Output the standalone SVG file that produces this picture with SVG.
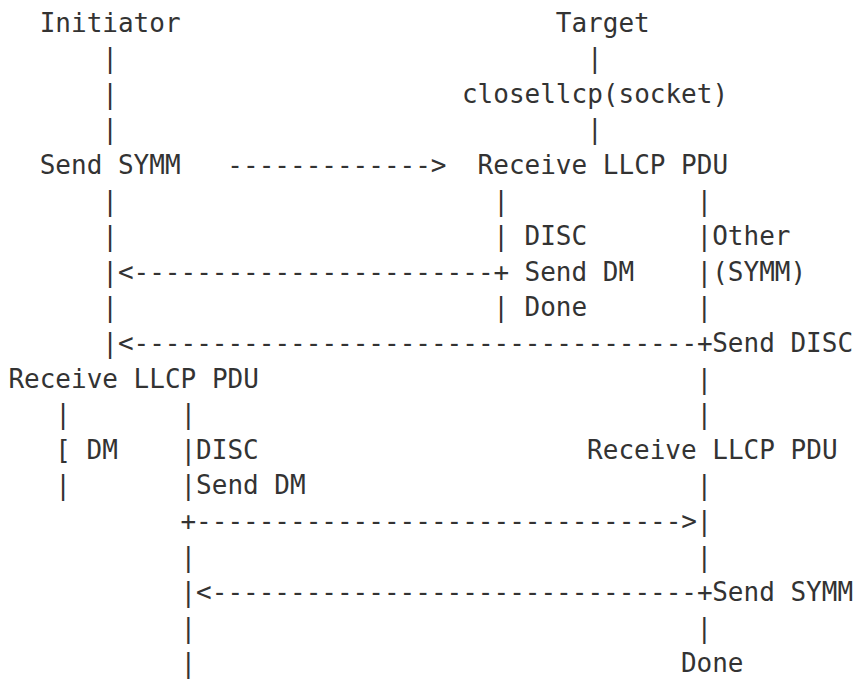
<svg xmlns="http://www.w3.org/2000/svg" width="853" height="679" viewBox="0 0 853 679">
  <style>
    text { font-family: "DejaVu Sans Mono", "Liberation Mono", monospace; font-size: 26px; fill: #333333; white-space: pre; }
  </style>
  <rect width="853" height="679" fill="#ffffff"/>

  <!-- character grid: column c sits at x = 8.4 + 15.64*c, row r baseline at y = 31.5 + 35.6*r -->

  <g id="connectors">
    <!-- initiator lifeline, column 6 -->
    <text x="102.24" y="67.1">|</text>
    <text x="102.24" y="102.7">|</text>
    <text x="102.24" y="138.3">|</text>
    <text x="102.24" y="209.5">|</text>
    <text x="102.24" y="245.1">|</text>
    <text x="102.24" y="280.7">|&lt;-----------------------+</text>
    <text x="102.24" y="316.3">|</text>
    <text x="102.24" y="351.9">|&lt;------------------------------------+</text>

    <!-- target lifeline, column 37 -->
    <text x="587.08" y="67.1">|</text>
    <text x="587.08" y="138.3">|</text>

    <!-- SYMM request -->
    <text x="227.36" y="173.9">-------------&gt;</text>

    <!-- DISC branch, column 31 -->
    <text x="493.24" y="209.5">|</text>
    <text x="493.24" y="245.1">|</text>
    <text x="493.24" y="316.3">|</text>

    <!-- other branch, column 44 -->
    <text x="696.56" y="209.5">|</text>
    <text x="696.56" y="245.1">|</text>
    <text x="696.56" y="280.7">|</text>
    <text x="696.56" y="316.3">|</text>
    <text x="696.56" y="387.5">|</text>
    <text x="696.56" y="423.1">|</text>
    <text x="696.56" y="494.3">|</text>
    <text x="696.56" y="529.9">|</text>
    <text x="696.56" y="565.5">|</text>
    <text x="696.56" y="636.7">|</text>

    <!-- initiator receive branches, columns 3 and 11 -->
    <text x="55.32" y="423.1">|</text>
    <text x="55.32" y="494.3">|</text>
    <text x="180.44" y="423.1">|</text>
    <text x="180.44" y="458.7">|</text>
    <text x="180.44" y="494.3">|</text>
    <text x="180.44" y="529.9">+-------------------------------&gt;</text>
    <text x="180.44" y="565.5">|</text>
    <text x="180.44" y="601.1">|&lt;-------------------------------+</text>
    <text x="180.44" y="636.7">|</text>
    <text x="180.44" y="672.3">|</text>
  </g>

  <g id="initiator">
    <text x="39.68" y="31.5">Initiator</text>
  </g>
  <g id="target">
    <text x="555.8" y="31.5">Target</text>
  </g>
  <g id="close-llcp">
    <text x="461.96" y="102.7">closellcp(socket)</text>
  </g>
  <g id="send-symm">
    <text x="39.68" y="173.9">Send SYMM</text>
  </g>
  <g id="target-receive">
    <text x="477.6" y="173.9">Receive LLCP PDU</text>
  </g>
  <g id="disc-branch">
    <text x="524.52" y="245.1">DISC</text>
    <text x="524.52" y="280.7">Send DM</text>
    <text x="524.52" y="316.3">Done</text>
  </g>
  <g id="other-branch">
    <text x="712.2" y="245.1">Other</text>
    <text x="712.2" y="280.7">(SYMM)</text>
  </g>
  <g id="send-disc">
    <text x="712.2" y="351.9">Send DISC</text>
  </g>
  <g id="initiator-receive">
    <text x="8.4" y="387.5">Receive LLCP PDU</text>
  </g>
  <g id="dm-branch">
    <text x="55.32" y="458.7">[ DM</text>
  </g>
  <g id="initiator-disc-branch">
    <text x="196.08" y="458.7">DISC</text>
    <text x="196.08" y="494.3">Send DM</text>
  </g>
  <g id="target-receive-2">
    <text x="587.08" y="458.7">Receive LLCP PDU</text>
  </g>
  <g id="send-symm-2">
    <text x="712.2" y="601.1">Send SYMM</text>
  </g>
  <g id="done">
    <text x="680.92" y="672.3">Done</text>
  </g>
</svg>
